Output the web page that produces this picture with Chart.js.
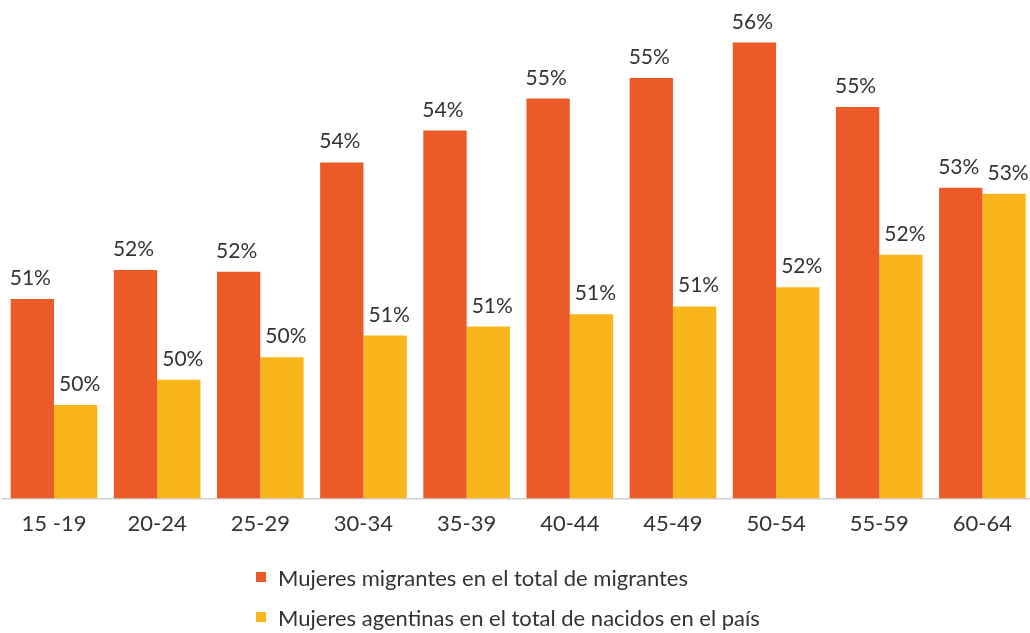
<!DOCTYPE html>
<html><head><meta charset="utf-8">
<script src="https://cdn.jsdelivr.net/npm/chart.js@4.4.1/dist/chart.umd.min.js"></script>
<style>
html,body{margin:0;padding:0;background:#fff;overflow:hidden;width:1030px;height:633px;}
#wrap{position:relative;width:1036px;height:633px;}
#c{display:block;}
.li{position:absolute;display:flex;align-items:center;height:26px;font-family:Lato,"Open Sans",sans-serif;font-size:22px;color:#333;white-space:nowrap;}
.sw{width:10px;height:10px;margin-right:12px;flex:none;}
</style></head><body>
<div id="wrap"><canvas id="c" width="1036" height="633" style="width:1036px;height:633px"></canvas><div id="legend"></div></div>
<script>
const categories = ["15 -19","20-24","25-29","30-34","35-39","40-44","45-49","50-54","55-59","60-64"];
const migrantWomen = [51.45,51.97,51.94,53.89,54.46,55.03,55.40,56.03,54.88,53.44];
const nativeWomen = [49.56,50.01,50.41,50.80,50.96,51.18,51.32,51.66,52.24,53.33];
const seriesNames = ["Mujeres migrantes en el total de migrantes","Mujeres agentinas en el total de nacidos en el país"];
const seriesColors = ["#EC5A28","#F8B51C"];

const valueLabels = {
  id: 'valueLabels',
  afterDatasetsDraw(chart, args, opts) {
    const ctx = chart.ctx;
    ctx.save();
    ctx.font = opts.font;
    ctx.fillStyle = opts.color;
    ctx.textAlign = 'center';
    ctx.textBaseline = 'alphabetic';
    chart.data.datasets.forEach((ds, i) => {
      const meta = chart.getDatasetMeta(i);
      meta.data.forEach((bar, j) => {
        ctx.fillText(Math.round(ds.data[j]) + '%', bar.x + opts.offsets[i], bar.y - opts.gap);
      });
    });
    ctx.restore();
  }
};

const chart = new Chart(document.getElementById('c'), {
  type: 'bar',
  data: {
    labels: categories,
    datasets: [
      { label: seriesNames[0], data: migrantWomen, backgroundColor: seriesColors[0], borderWidth: 0 },
      { label: seriesNames[1], data: nativeWomen, backgroundColor: seriesColors[1], borderWidth: 0 }
    ]
  },
  options: {
    responsive: false,
    animation: false,
    devicePixelRatio: 1,
    layout: { padding: { left: 2.4, right: 2, top: 0, bottom: 84.3 } },
    datasets: { bar: { categoryPercentage: 0.84, barPercentage: 1.0 } },
    scales: {
      x: {
        grid: { display: false, drawTicks: false, tickLength: 0 },
        border: { display: true, color: '#d0d0d0', width: 1.5 },
        ticks: { color: '#333', padding: 12, font: { family: 'Lato', size: 22 } }
      },
      y: { display: false, min: 47.893, max: 56.791 }
    },
    plugins: {
      legend: { display: false },
      tooltip: { enabled: false },
      valueLabels: { font: '21px Lato', color: '#333', gap: 14, offsets: [-2, 4] }
    }
  },
  plugins: [valueLabels]
});

const legend = document.getElementById('legend');
chart.data.datasets.forEach((ds, i) => {
  const item = document.createElement('div');
  item.className = 'li';
  item.style.left = '256px';
  item.style.top = (564 + i * 40) + 'px';
  const sw = document.createElement('span');
  sw.className = 'sw';
  sw.style.background = ds.backgroundColor;
  const tx = document.createElement('span');
  tx.textContent = ds.label;
  item.appendChild(sw);
  item.appendChild(tx);
  legend.appendChild(item);
});
</script>
</body></html>
